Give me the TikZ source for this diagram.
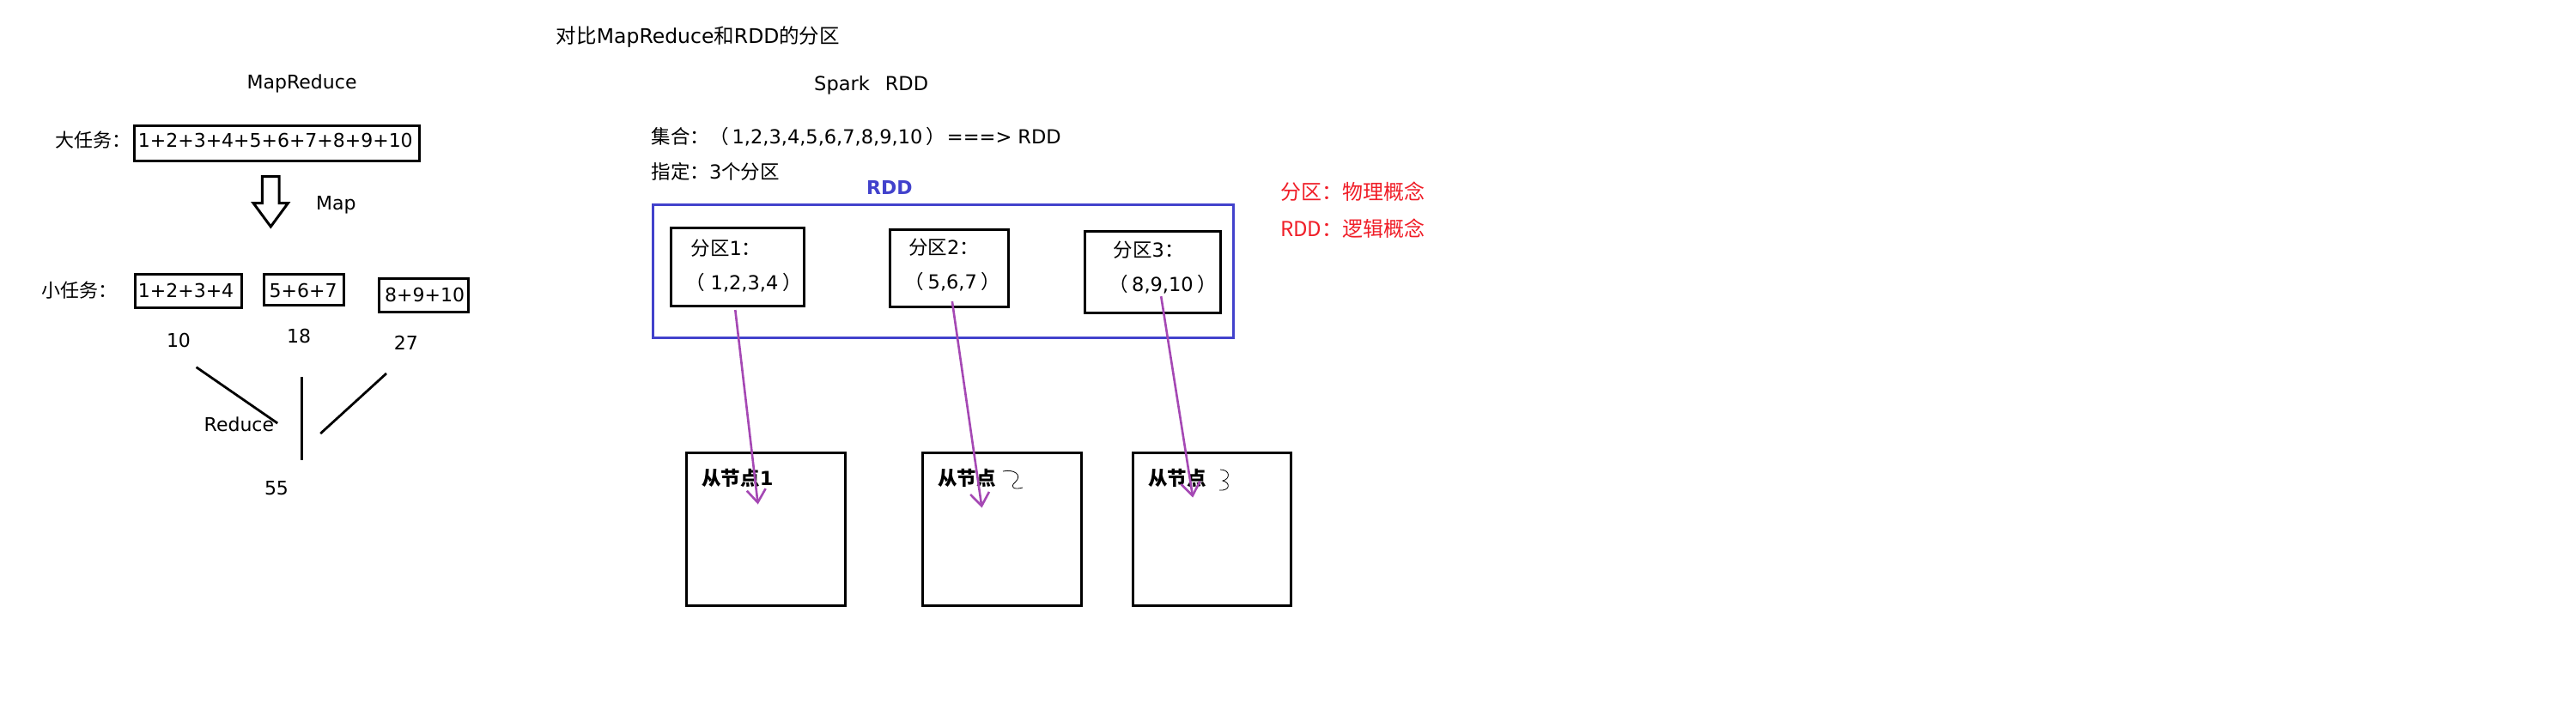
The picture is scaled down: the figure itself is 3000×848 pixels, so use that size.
\documentclass[tikz,border=0pt]{standalone}
\usepackage{fontspec}
\setmainfont{DejaVu Sans}
\newfontfamily\cjk{Noto Sans CJK SC}
\usetikzlibrary{arrows.meta,calc}
\newcommand\fszL{\fontsize{22}{26}\selectfont}
\newcommand\fszM{\fontsize{22.5}{26}\selectfont}
\newcommand\fszT{\fontsize{23.5}{27}\selectfont}
\newcommand\fszR{\fontsize{24}{28}\selectfont}
\definecolor{rddblue}{RGB}{66,66,204}
\definecolor{arrpurple}{RGB}{165,72,180}
\definecolor{notered}{RGB}{240,30,40}
\begin{document}
\begin{tikzpicture}[x=1pt,y=-1pt]
\tikzset{
  txt/.style={inner sep=0pt, anchor=base west},
  ctxt/.style={inner sep=0pt, anchor=base},
  bx/.style={draw, line width=3pt, inner sep=0pt, anchor=north west},
  flow/.style={draw=arrpurple, line width=2.6pt, -{Straight Barb[length=15pt,width=22pt,line width=2.6pt]}},
  redline/.style={line width=2.8pt},
  note/.style={inner sep=0pt, anchor=base west, text=notered, font=\cjk\fszR},
  squig/.style={line width=0.8pt}
}
\useasboundingbox[fill=white] (0,0) rectangle (3000,848);

% ---------------- MapReduce side ----------------
\node[txt, font=\fszL] (mrtitle) at (287.5,103.3) {MapReduce};
\node[txt, font=\cjk\fszL] (bigl) at (64,171.7) {大任务：};
\node[bx, minimum width=331.4pt, minimum height=40.6pt] (bigbox) at (155.4,145) {};
\node[txt, font=\fszL] (bigt) at (160.7,171.7) {1+2+3+4+5+6+7+8+9+10};

\draw[line width=3pt] (305.4,205.5) -- (325,205.5) -- (325,236.5) -- (335.5,236.5) -- (315.3,264) -- (295,236.5) -- (305.4,236.5) -- cycle;
\node[txt, font=\fszL] (maplbl) at (367.9,244.3) {Map};

\node[txt, font=\cjk\fszL] (smalll) at (48.2,346.5) {小任务：};
\node[bx, minimum width=124pt, minimum height=38.2pt] (sb1) at (156.4,318.4) {};
\node[txt, font=\fszL] (sb1t) at (160.7,346.7) {1+2+3+4};
\node[bx, minimum width=93pt, minimum height=36pt] (sb2) at (306.4,318.4) {};
\node[txt, font=\fszL] (sb2t) at (313.5,346) {5+6+7};
\node[bx, minimum width=103.6pt, minimum height=38.2pt] (sb3) at (440,323.4) {};
\node[txt, font=\fszL] (sb3t) at (448,351.7) {8+9+10};

\node[ctxt, font=\fszL] (r10) at (208,404.3) {10};
\node[ctxt, font=\fszL] (r18) at (348.2,399.3) {18};
\node[ctxt, font=\fszL] (r27) at (472.8,407.3) {27};

\draw[redline] (228.6,427.7) -- (323.2,493);
\draw[redline] (351.8,439) -- (351.8,536);
\draw[redline] (450,435) -- (373.2,505);
\node[txt, font=\fszL] (reducelbl) at (237.5,502.7) {Reduce};
\node[ctxt, font=\fszL] (r55) at (322,576) {55};

% ---------------- Spark RDD side ----------------
\node[txt, font=\fszT] (title) at (647.7,50.7) {{\cjk 对比}MapReduce{\cjk 和}RDD{\cjk 的分区}};
\node[txt, font=\fszM] (spark) at (948,106) {Spark\hspace{18pt}RDD};
\node[txt, font=\fszM] (setl) at (758.4,167.3) {{\cjk 集合：（}\hspace{4pt}1,2,3,4,5,6,7,8,9,10\hspace{4pt}{\cjk ）}\hspace{2pt}===> RDD};
\node[txt, font=\fszM] (specl) at (758.4,208.3) {{\cjk 指定：}3{\cjk 个分区}};

\node[ctxt, font=\fszL\bfseries, text=rddblue] (rddlbl) at (1035.8,226) {RDD};
\node[draw=rddblue, line width=3pt, inner sep=0pt, anchor=north west, minimum width=676.2pt, minimum height=155.3pt] (rdd) at (758.9,236.5) {};

\node[bx, minimum width=155pt, minimum height=91pt] (p1) at (779.8,263.8) {};
\node[txt, font=\fszM] (p1a) at (804.3,297.3) {{\cjk 分区}1{\cjk ：}};
\node[txt, font=\fszM] (p1b) at (798,337.3) {{\cjk （}\hspace{7pt}1,2,3,4\hspace{5pt}{\cjk ）}};
\node[bx, minimum width=138pt, minimum height=90pt] (p2) at (1034.7,265.8) {};
\node[txt, font=\fszM] (p2a) at (1057.8,296.7) {{\cjk 分区}2{\cjk ：}};
\node[txt, font=\fszM] (p2b) at (1053,336.7) {{\cjk （}\hspace{5pt}5,6,7\hspace{5pt}{\cjk ）}};
\node[bx, minimum width=157.8pt, minimum height=95.7pt] (p3) at (1262,267.5) {};
\node[txt, font=\fszM] (p3a) at (1296.5,299.3) {{\cjk 分区}3{\cjk ：}};
\node[txt, font=\fszM] (p3b) at (1291.5,339.3) {{\cjk （}\hspace{4pt}8,9,10\hspace{5pt}{\cjk ）}};

\node[bx, minimum width=184.6pt, minimum height=178.7pt] (s1) at (798.1,525.5) {};
\node[txt, font=\fszM\bfseries] (s1t) at (817.2,565) {{\cjk\bfseries 从节点}1};
\node[bx, minimum width=184.6pt, minimum height=178.7pt] (s2) at (1072.9,525.5) {};
\node[txt, font=\cjk\fszM\bfseries] (s2t) at (1092,565) {从节点};
\node[bx, minimum width=184.2pt, minimum height=178.7pt] (s3) at (1318.1,525.5) {};
\node[txt, font=\cjk\fszM\bfseries] (s3t) at (1336.8,565) {从节点};

% hand-written digits after the labels
\draw[squig] (1168,549) .. controls (1180,546) and (1192,553) .. (1182,562) .. controls (1176,567) and (1180,571) .. (1191,568);
\draw[squig] (1421,547) .. controls (1433,547) and (1433,558) .. (1424,560) .. controls (1433,562) and (1433,572) .. (1420,571);

% connectors
\coordinate (a1s) at ($(p1.south)+(-2.5,3.3)$);
\coordinate (a1e) at ($(s1.north)+(-9.2,62)$);
\coordinate (a2s) at ($(p2.south)+(3.7,-7.7)$);
\coordinate (a2e) at ($(s2.north)+(-23.2,66)$);
\coordinate (a3s) at ($(p3.south)+(9.8,-21)$);
\coordinate (a3e) at ($(s3.north)+(-22.5,54)$);
\draw[flow] (a1s) -- (a1e);
\draw[flow] (a2s) -- (a2e);
\draw[flow] (a3s) -- (a3e);

\node[note] (note1) at (1491,232.5) {分区：物理概念};
\node[note] (note2) at (1491,275) {RDD：逻辑概念};
\end{tikzpicture}
\end{document}
